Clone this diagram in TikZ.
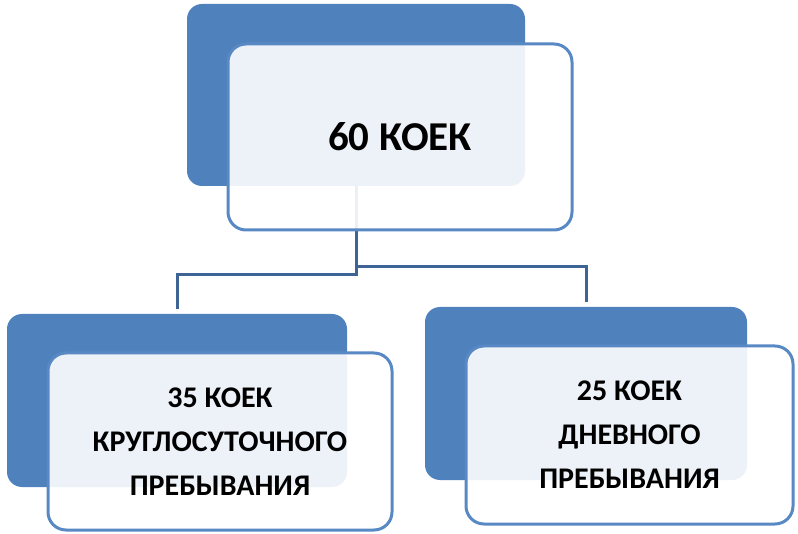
\documentclass[tikz,border=0pt]{standalone}
\usepackage{fontspec}
\setmainfont{Carlito}
\usetikzlibrary{positioning,calc}
\definecolor{BoxBlue}{RGB}{79,129,189}
\definecolor{EdgeBlue}{RGB}{88,137,196}
\definecolor{LinkBlue}{RGB}{62,100,150}
\tikzset{
  back/.style={fill=BoxBlue,draw=none,rounded corners=15pt,inner sep=0pt},
  front/.style={draw=EdgeBlue,line width=3pt,fill=white,fill opacity=0.9,text opacity=1,
    rounded corners=18pt,inner sep=0pt,align=center,font=\bfseries\fontsize{30}{44}\selectfont},
  link/.style={draw=LinkBlue,line width=3pt},
}

\begin{document}
\begin{tikzpicture}[x=1pt,y=-1pt]
\useasboundingbox (0,0) rectangle (798,534);
\coordinate (ctop) at (356,95);
\coordinate (cleft) at (177,400.5);
\coordinate (cright) at (586,393.5);
\node[back,minimum width=338pt,minimum height=182pt] (topback) at (ctop) {};
\node[back,minimum width=340pt,minimum height=173pt] (leftback) at (cleft) {};
\node[back,minimum width=322pt,minimum height=173pt] (rightback) at (cright) {};
\coordinate (jl) at (topback.south |- 0,275);
\coordinate (jr) at (topback.south |- 0,267);
\draw[link] (topback.south) -- (jl) -| ([yshift=5pt]leftback.north);
\draw[link] (jr) -| ([yshift=5pt]rightback.north);
\node[front,minimum width=344pt,minimum height=186pt,font=\bfseries\fontsize{41}{44}\selectfont] (topfront) at (400,137) {60 КОЕК};
\node[front,minimum width=344pt,minimum height=177pt] (leftfront) at (220,441.5) {35 КОЕК\\КРУГЛОСУТОЧНОГО\\ПРЕБЫВАНИЯ};
\node[front,minimum width=327pt,minimum height=178pt] (rightfront) at (629.5,435) {25 КОЕК\\ДНЕВНОГО\\ПРЕБЫВАНИЯ};
\end{tikzpicture}
\end{document}
